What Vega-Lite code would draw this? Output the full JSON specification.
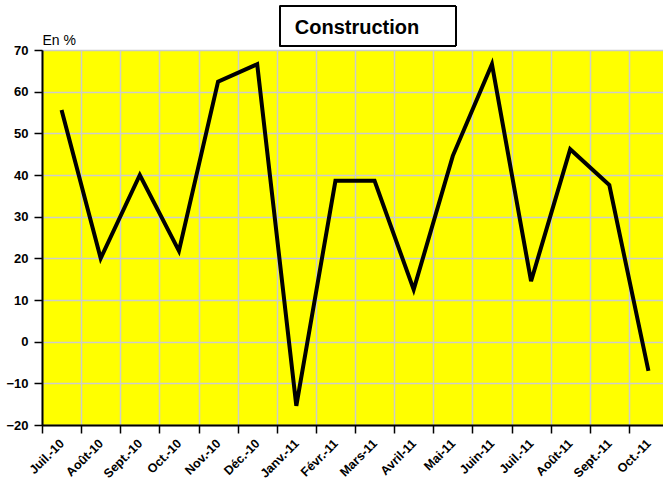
{
  "$schema": "https://vega.github.io/schema/vega-lite/v6.json",
  "autosize": {"type": "none"},
  "padding": {"left": 42, "top": 50, "right": 0, "bottom": 59},
  "width": 626,
  "height": 375,
  "background": "white",
  "title": {
    "text": "Construction",
    "font": "Liberation Sans",
    "fontSize": 20,
    "fontWeight": "bold",
    "color": "black",
    "anchor": "middle",
    "baseline": "alphabetic",
    "dx": 2,
    "dy": 48,
    "offset": 0
  },
  "config": {
    "view": {"stroke": "black", "strokeWidth": 1, "fill": "#ffff00"},
    "axis": {
      "labelFont": "Liberation Sans",
      "labelFontWeight": "bold",
      "labelColor": "black",
      "domainColor": "black",
      "domainWidth": 2,
      "tickColor": "black",
      "tickWidth": 1.5,
      "tickSize": 8,
      "gridColor": "#cccccc",
      "gridWidth": 1.5,
      "gridOpacity": 1
    }
  },
  "data": {
    "values": [
      {"mois": "Juil.-10", "valeur": 55.6},
      {"mois": "Août-10", "valeur": 20.0},
      {"mois": "Sept.-10", "valeur": 40.0},
      {"mois": "Oct.-10", "valeur": 21.8},
      {"mois": "Nov.-10", "valeur": 62.4},
      {"mois": "Déc.-10", "valeur": 66.6},
      {"mois": "Janv.-11", "valeur": -15.4},
      {"mois": "Févr.-11", "valeur": 38.6},
      {"mois": "Mars-11", "valeur": 38.6},
      {"mois": "Avril-11", "valeur": 12.5},
      {"mois": "Mai-11", "valeur": 44.6},
      {"mois": "Juin-11", "valeur": 66.6},
      {"mois": "Juil.-11", "valeur": 14.5},
      {"mois": "Août-11", "valeur": 46.2},
      {"mois": "Sept.-11", "valeur": 37.6},
      {"mois": "Oct.-11", "valeur": -7.0}
    ]
  },
  "layer": [
    {
      "mark": {"type": "line", "color": "black", "strokeWidth": 4, "strokeJoin": "miter", "strokeCap": "butt"},
      "encoding": {
        "x": {
          "field": "mois",
          "type": "ordinal",
          "sort": null,
          "scale": {
            "type": "band",
            "paddingInner": 0,
            "paddingOuter": 0,
            "domain": ["Juil.-10", "Août-10", "Sept.-10", "Oct.-10", "Nov.-10", "Déc.-10", "Janv.-11", "Févr.-11", "Mars-11", "Avril-11", "Mai-11", "Juin-11", "Juil.-11", "Août-11", "Sept.-11", "Oct.-11"]
          },
          "axis": {
            "title": null,
            "tickBand": "extent",
            "labelAngle": -45,
            "labelAlign": "right",
            "labelBaseline": "middle",
            "labelFontSize": 12.5,
            "labelPadding": 8,
            "grid": true
          }
        },
        "y": {
          "field": "valeur",
          "type": "quantitative",
          "scale": {"domain": [-20, 70], "nice": false, "zero": false},
          "axis": {
            "values": [-20, -10, 0, 10, 20, 30, 40, 50, 60, 70],
            "labelFontSize": 13,
            "labelPadding": 6,
            "title": "En %",
            "titleAngle": 0,
            "titleX": 0,
            "titleY": -6,
            "titleAlign": "left",
            "titleBaseline": "alphabetic",
            "titleFont": "Liberation Sans",
            "titleFontSize": 14,
            "titleFontWeight": "normal",
            "titleColor": "black",
            "grid": true
          }
        }
      }
    },
    {
      "mark": {"type": "rect", "filled": false, "stroke": "black", "strokeWidth": 1, "clip": false, "xOffset": 3, "x2Offset": 3},
      "encoding": {
        "x": {"datum": "Janv.-11", "bandPosition": 0},
        "x2": {"datum": "Mai-11"},
        "y": {"datum": 80.5},
        "y2": {"datum": 71.0}
      }
    }
  ]
}
